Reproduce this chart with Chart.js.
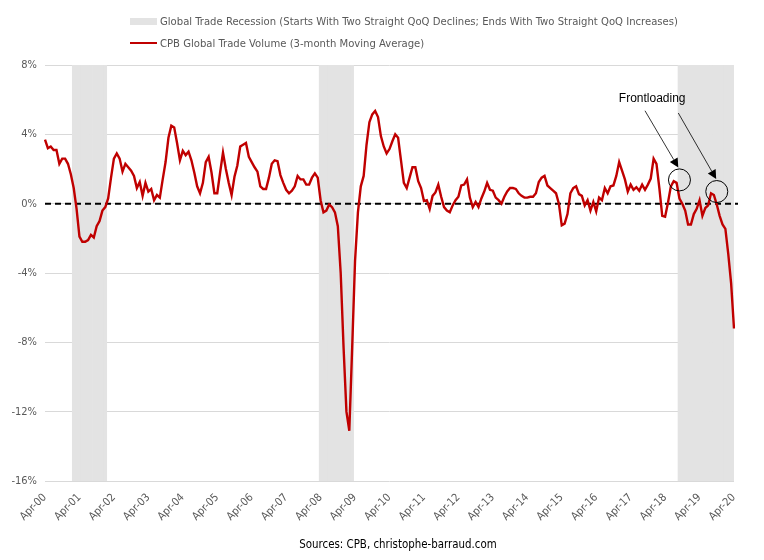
<!DOCTYPE html>
<html>
<head>
<meta charset="utf-8">
<script src="https://cdn.jsdelivr.net/npm/chart.js@4.4.1/dist/chart.umd.min.js"></script>
<style>
  html, body { margin: 0; padding: 0; background: #fff; }
  #wrap { position: relative; width: 764px; height: 560px; }
  #legend { position: absolute; left: 130px; top: 10px; font: 11.2px 'Liberation Sans Narrow', 'DejaVu Sans Condensed', sans-serif; color: #595959; }
  .item { display: flex; align-items: center; height: 22px; white-space: nowrap; }
  .swatch { width: 27px; margin-right: 3px; }
  #source { position: absolute; left: 0; width: 796px; top: 537px; text-align: center; font: 11.4px 'Liberation Sans Narrow', 'DejaVu Sans Condensed', sans-serif; color: #000; }
</style>
</head>
<body>
<div id="wrap">
  <canvas id="chart" width="764" height="560"></canvas>
  <div id="legend">
    <div class="item"><span class="swatch" style="height:7px;background:#e3e3e3"></span>Global Trade Recession (Starts With Two Straight QoQ Declines; Ends With Two Straight QoQ Increases)</div>
    <div class="item"><span class="swatch" style="height:2.5px;background:#c00000"></span>CPB Global Trade Volume (3-month Moving Average)</div>
  </div>
  <div id="source">Sources: CPB, christophe-barraud.com</div>
</div>
<script>
// 月次カテゴリ: Apr-00 〜 Apr-20
const monthNames = ['Jan', 'Feb', 'Mar', 'Apr', 'May', 'Jun', 'Jul', 'Aug', 'Sep', 'Oct', 'Nov', 'Dec'];
const months = [];
for (let k = 0; k <= 240; k++) {
    const m = (3 + k) % 12;
    const yr = 2000 + Math.floor((3 + k) / 12);
    months.push(monthNames[m] + '-' + String(yr).slice(2));
}

// CPB Global Trade Volume (3-month moving average, %)
const tradeVolume = [
    3.7, 3.2, 3.3, 3.1, 3.1, 2.3, 2.6, 2.6, 2.3, 1.7, 0.9, -0.3,
    -1.9, -2.2, -2.2, -2.1, -1.8, -1.95, -1.3, -1.0, -0.4, -0.2, 0.3, 1.5,
    2.6, 2.9, 2.6, 1.85, 2.3, 2.1, 1.9, 1.6, 0.9, 1.25, 0.45, 1.2,
    0.7, 0.85, 0.2, 0.5, 0.35, 1.4, 2.4, 3.8, 4.5, 4.4, 3.5, 2.5,
    3.05, 2.8, 3.0, 2.5, 1.8, 1.0, 0.6, 1.2, 2.4, 2.7, 1.8, 0.6,
    0.6, 1.8, 2.95, 2.0, 1.2, 0.5, 1.55, 2.2, 3.3, 3.4, 3.5, 2.7,
    2.4, 2.1, 1.85, 1.0, 0.85, 0.85, 1.5, 2.3, 2.5, 2.45, 1.65, 1.2,
    0.8, 0.6, 0.75, 1.0, 1.6, 1.4, 1.4, 1.1, 1.1, 1.5, 1.75, 1.5,
    0.2, -0.5, -0.4, -0.05, -0.2, -0.5, -1.3, -4.0, -8.3, -12.0, -13.1, -8.3,
    -3.3, -0.5, 1.0, 1.6, 3.4, 4.7, 5.15, 5.35, 5.0, 3.9, 3.3, 2.9,
    3.15, 3.6, 4.0, 3.8, 2.5, 1.2, 0.9, 1.5, 2.1, 2.1, 1.3, 0.9,
    0.15, 0.2, -0.3, 0.45, 0.65, 1.1, 0.4, -0.2, -0.4, -0.5, -0.1, 0.2,
    0.4, 1.05, 1.1, 1.4, 0.35, -0.2, 0.1, -0.2, 0.3, 0.7, 1.2, 0.8,
    0.75, 0.35, 0.2, 0.0, 0.4, 0.7, 0.9, 0.9, 0.85, 0.6, 0.45, 0.35,
    0.35, 0.4, 0.4, 0.6, 1.25, 1.5, 1.6, 1.05, 0.9, 0.75, 0.6, 0.0,
    -1.25, -1.15, -0.6, 0.6, 0.9, 1.0, 0.55, 0.45, -0.1, 0.2, -0.4, 0.1,
    -0.45, 0.35, 0.2, 0.9, 0.6, 1.0, 1.05, 1.6, 2.4, 1.9, 1.4, 0.7,
    1.1, 0.8, 0.95, 0.75, 1.1, 0.8, 1.1, 1.45, 2.6, 2.3, 0.9, -0.7,
    -0.75, 0.05, 1.0, 1.3, 1.2, 0.3, 0.0, -0.4, -1.2, -1.2, -0.6, -0.3,
    0.2, -0.7, -0.25, -0.1, 0.6, 0.5, -0.05, -0.7, -1.2, -1.45, -2.9, -4.6,
    -7.2
];

// 景気後退期間 (開始月, 終了月)
const recessionStarts = ['Feb-01', 'Apr-08', 'Sep-18'];
const recessionEnds = ['Jan-02', 'Mar-09', 'Apr-20'];

// Y軸の範囲
const yMin = -16;
const yMax = 8;
const yStep = 4;

// 後退期間の帯 (フローティングバー)
const recessionBars = months.map((m, i) => {
    for (let r = 0; r < recessionStarts.length; r++) {
        if (i >= months.indexOf(recessionStarts[r]) && i <= months.indexOf(recessionEnds[r])) {
            return [yMin, yMax];
        }
    }
    return null;
});

// 注記 (データ座標: カテゴリindex, 値)
const notes = {
    text: { x: 211.5, y: 6.05, label: 'Frontloading' },
    arrows: [
        { from: [209, 5.36], to: [220.6, 2.09] },
        { from: [220.6, 5.23], to: [233.8, 1.42] }
    ],
    circles: [[221, 1.37], [234, 0.7]]
};

const overlay = {
    id: 'overlay',
    afterDatasetDraw(chart, args) {
        if (args.index !== 1) return;
        // 0% の破線
        const { ctx, chartArea, scales } = chart;
        const y0 = scales.y.getPixelForValue(0);
        ctx.save();
        ctx.strokeStyle = '#000';
        ctx.lineWidth = 2;
        ctx.setLineDash([6, 4]);
        ctx.beginPath();
        ctx.moveTo(chartArea.left, y0);
        ctx.lineTo(chartArea.right + 4, y0);
        ctx.stroke();
        ctx.restore();
    },
    afterDatasetsDraw(chart) {
        const { ctx, scales: { x, y } } = chart;
        const px = (p) => [x.getPixelForValue(p[0]), y.getPixelForValue(p[1])];
        ctx.save();
        ctx.fillStyle = '#000';
        ctx.strokeStyle = '#000';
        ctx.font = "12px 'Liberation Sans', sans-serif";
        ctx.textAlign = 'center';
        ctx.textBaseline = 'middle';
        const t = px([notes.text.x, notes.text.y]);
        ctx.fillText(notes.text.label, t[0], t[1]);

        ctx.lineWidth = 0.8;
        notes.arrows.forEach(a => {
            const [x1, y1] = px(a.from);
            const [x2, y2] = px(a.to);
            const ang = Math.atan2(y2 - y1, x2 - x1);
            const hl = 9, hw = 4.5;
            const bx = x2 - hl * Math.cos(ang), by = y2 - hl * Math.sin(ang);
            ctx.beginPath();
            ctx.moveTo(x1, y1);
            ctx.lineTo(bx, by);
            ctx.stroke();
            ctx.beginPath();
            ctx.moveTo(x2, y2);
            ctx.lineTo(bx + hw * Math.sin(ang), by - hw * Math.cos(ang));
            ctx.lineTo(bx - hw * Math.sin(ang), by + hw * Math.cos(ang));
            ctx.closePath();
            ctx.fill();
        });

        ctx.lineWidth = 1;
        notes.circles.forEach(c => {
            const [cx, cy] = px(c);
            ctx.beginPath();
            ctx.arc(cx, cy, 11, 0, Math.PI * 2);
            ctx.stroke();
        });
        ctx.restore();
    }
};

const tickFont = { family: "'Liberation Sans Narrow', 'DejaVu Sans Condensed', sans-serif", size: 11 };

new Chart(document.getElementById('chart'), {
    type: 'line',
    data: {
        labels: months,
        datasets: [
            {
                type: 'line',
                label: 'CPB Global Trade Volume (3-month Moving Average)',
                data: tradeVolume,
                borderColor: '#c00000',
                borderWidth: 2.4,
                pointRadius: 0,
                tension: 0,
                fill: false
            },
            {
                type: 'bar',
                label: 'Global Trade Recession',
                data: recessionBars,
                backgroundColor: '#e3e3e3',
                barPercentage: 1,
                categoryPercentage: 1,
                borderWidth: 0
            }
        ]
    },
    options: {
        responsive: false,
        animation: false,
        layout: { padding: { top: 65, right: 30, bottom: 0, left: 0 } },
        plugins: {
            legend: { display: false },
            tooltip: { enabled: false },
            title: { display: false }
        },
        scales: {
            x: {
                offset: false,
                grid: { display: false },
                border: { display: false },
                ticks: {
                    autoSkip: false,
                    maxRotation: 45,
                    minRotation: 45,
                    padding: 2,
                    color: '#595959',
                    font: tickFont,
                    callback: (v, i) => (i % 12 === 0 ? months[i] : '')
                },
                afterFit: (s) => { s.height = 79; }
            },
            y: {
                min: yMin,
                max: yMax,
                grid: { color: '#d9d9d9', lineWidth: 1, drawTicks: false },
                border: { display: false },
                ticks: {
                    stepSize: yStep,
                    padding: 8,
                    color: '#595959',
                    font: tickFont,
                    callback: (v) => v + '%'
                },
                afterFit: (s) => { s.width = 45; }
            }
        }
    },
    plugins: [overlay]
});
</script>
</body>
</html>
